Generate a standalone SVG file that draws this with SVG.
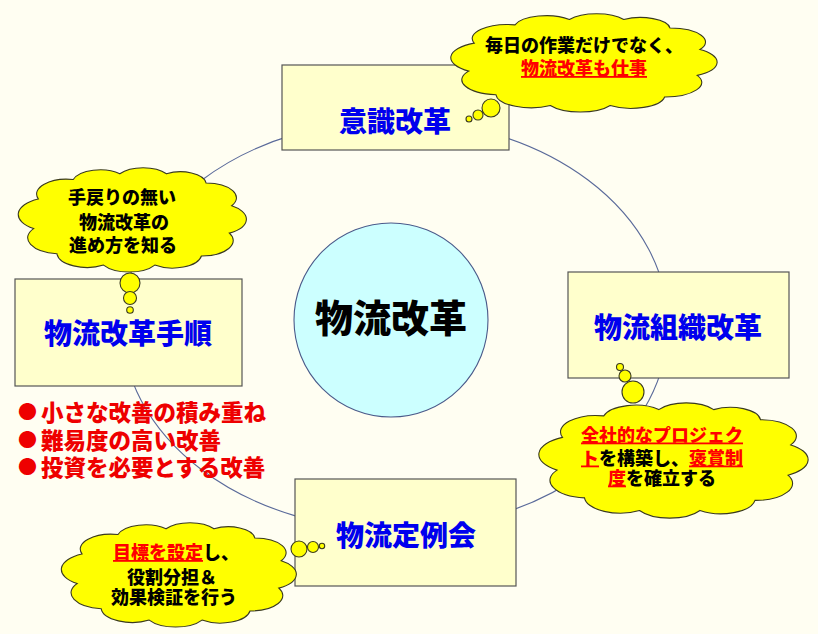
<svg xmlns="http://www.w3.org/2000/svg" xmlns:xlink="http://www.w3.org/1999/xlink" width="818" height="634" viewBox="0 0 818 634">
<style>
  .jp { font-family: "Liberation Sans", "Noto Sans CJK JP", sans-serif; font-weight: 900; }
  .dot { font-family: "Noto Sans CJK JP", sans-serif; font-size: 19px; }
  .box { fill: #FFFFCC; stroke: #555555; stroke-width: 1.2; }
  .boxlabel { fill: #0000EE; font-size: 28px; text-anchor: middle; }
  .cloud { fill: #FFFF00; stroke: #3A3A20; stroke-width: 1.1; }
  .ctext { fill: #000000; font-size: 18px; text-anchor: middle; }
  .red { fill: #FF0000; text-decoration: underline; }
  .bullet { fill: #EE0000; font-size: 22.5px; }
  .ring { fill: none; stroke: #5A6A9A; stroke-width: 1.1; }
</style>
<defs>
  <path id="cloudShape" vector-effect="non-scaling-stroke" d="M8,58 A15,15 0 0 1 10,32 A13,13 0 0 1 25,15 A12,12 0 0 1 45,10 A12,12 0 0 1 65,10 A11,11 0 0 1 82,18 A13,13 0 0 1 93,38 A14,14 0 0 1 92,62 A13.5,13.5 0 0 1 80,82 A12.5,12.5 0 0 1 60,90 A13,13 0 0 1 38,90 A13,13 0 0 1 18,80 A14,14 0 0 1 8,58 Z"/>
</defs>
<rect x="0" y="0" width="818" height="634" fill="#FFFEF2"/>

<g id="connectors">
  <ellipse class="ring" cx="395" cy="325" rx="273" ry="205"/>
</g>

<g id="center">
  <circle cx="391" cy="320" r="97" fill="#CCFFFF" stroke="#4A5A8A" stroke-width="1.1"/>
  <text class="jp" x="391" y="332" font-size="38" text-anchor="middle" fill="#000000">物流改革</text>
</g>

<g id="node-ishiki">
  <rect class="box" x="282" y="65" width="227" height="85"/>
  <text class="jp boxlabel" x="395" y="131.5">意識改革</text>
</g>

<g id="node-soshiki">
  <rect class="box" x="568" y="272" width="221" height="106"/>
  <text class="jp boxlabel" x="678" y="337.5">物流組織改革</text>
</g>

<g id="node-teireikai">
  <rect class="box" x="295" y="479" width="221" height="107"/>
  <text class="jp boxlabel" x="406" y="545.5">物流定例会</text>
</g>

<g id="node-tejun">
  <rect class="box" x="15" y="279" width="227" height="107"/>
  <text class="jp boxlabel" x="128" y="343.5">物流改革手順</text>
</g>

<g id="cloud-top">
  <use xlink:href="#cloudShape" class="cloud" transform="translate(447,8.7) scale(2.72,1.076)"/>
  <circle class="cloud" cx="469" cy="119" r="3"/>
  <circle class="cloud" cx="478" cy="115" r="5"/>
  <circle class="cloud" cx="491" cy="108" r="9"/>
  <text class="jp ctext" x="584" y="51.5" font-size="17">毎日の作業だけでなく、</text>
  <text class="jp ctext" x="584" y="75"><tspan class="red">物流改革も仕事</tspan></text>
</g>

<g id="cloud-left">
  <use xlink:href="#cloudShape" class="cloud" transform="translate(15,162.4) scale(2.33,1.141)"/>
  <circle class="cloud" cx="130" cy="283" r="10"/>
  <circle class="cloud" cx="130" cy="298" r="6.5"/>
  <circle class="cloud" cx="130" cy="310" r="3.3"/>
  <text class="jp ctext" x="122" y="204">手戻りの無い</text>
  <text class="jp ctext" x="124" y="229">物流改革の</text>
  <text class="jp ctext" x="123" y="252">進め方を知る</text>
</g>

<g id="cloud-right">
  <use xlink:href="#cloudShape" class="cloud" transform="translate(535,397) scale(2.75,1.261)"/>
  <circle class="cloud" cx="620" cy="367" r="3.5"/>
  <circle class="cloud" cx="625" cy="376" r="6"/>
  <circle class="cloud" cx="633" cy="392" r="11"/>
  <text class="jp ctext" x="662" y="441.5" font-size="17"><tspan class="red">全社的なプロジェク</tspan></text>
  <text class="jp ctext" x="662" y="464.5" font-size="17"><tspan class="red">ト</tspan>を構築し、<tspan class="red">褒賞制</tspan></text>
  <text class="jp ctext" x="662" y="484.5" font-size="17"><tspan class="red">度</tspan>を確立する</text>
</g>

<g id="cloud-bottom">
  <use xlink:href="#cloudShape" class="cloud" transform="translate(58,517.4) scale(2.40,1.141)"/>
  <circle class="cloud" cx="299" cy="549" r="8"/>
  <circle class="cloud" cx="313" cy="547" r="5.5"/>
  <circle class="cloud" cx="322" cy="546" r="2.7"/>
  <text class="jp ctext" x="113" y="559" style="text-anchor:start"><tspan class="red">目標を設定</tspan>し、</text>
  <text class="jp ctext" x="172" y="584">役割分担＆</text>
  <text class="jp ctext" x="174" y="604">効果検証を行う</text>
</g>

<g id="bullets">
  <text class="jp bullet" x="18" y="420.5"><tspan class="dot" dy="-1.3">●</tspan><tspan dx="4" dy="1.3">小さな改善の積み重ね</tspan></text>
  <text class="jp bullet" x="18" y="448.5"><tspan class="dot" dy="-1.3">●</tspan><tspan dx="4" dy="1.3">難易度の高い改善</tspan></text>
  <text class="jp bullet" x="18" y="475.5"><tspan class="dot" dy="-1.3">●</tspan><tspan dx="4" dy="1.3">投資を必要とする改善</tspan></text>
</g>
</svg>
